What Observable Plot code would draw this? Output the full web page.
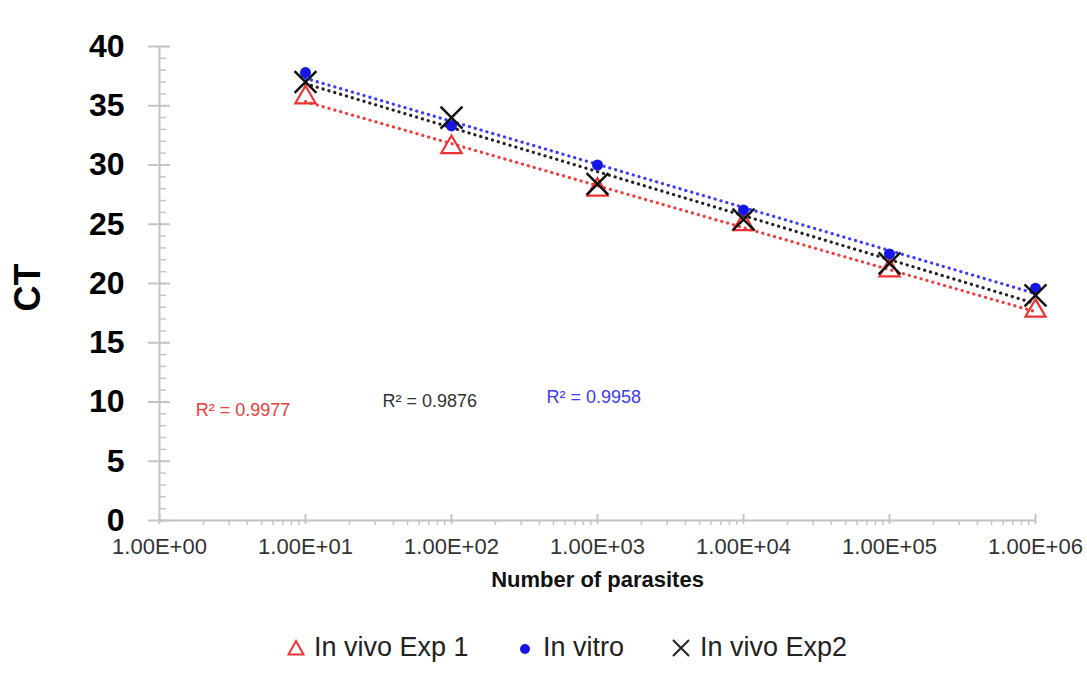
<!DOCTYPE html>
<html>
<head>
<meta charset="utf-8">
<script src="https://cdn.jsdelivr.net/npm/d3@7"></script>
<script src="https://cdn.jsdelivr.net/npm/@observablehq/plot@0.6"></script>
<style>
  body { margin: 0; background: #fff; font-family: "Liberation Sans", Arial, sans-serif; }
  #legend { height: 57px; position: relative; font-size: 27px; color: #222; }
  .item { position: absolute; top: 12px; display: flex; align-items: center; gap: 8px; }
</style>
</head>
<body>
<div id="chart"></div>
<div id="legend"></div>
<script>
// ---- data ----
const parasites = [1e1, 1e2, 1e3, 1e4, 1e5, 1e6];
const inVivoExp1 = [35.7, 31.5, 27.9, 25.0, 21.1, 17.7];
const inVitro    = [37.8, 33.3, 30.0, 26.2, 22.5, 19.6];
const inVivoExp2 = [37.0, 34.0, 28.4, 25.4, 21.7, 19.0];
const seriesNames = ["In vivo Exp 1", "In vitro", "In vivo Exp2"];
const seriesColors = ["#ee3333", "#1515e6", "#111111"];
const trendColors = ["#f03c3c", "#3c3cff", "#222222"];
const r2Text = ["R² = 0.9977", "R² = 0.9958", "R² = 0.9876"];
const r2Colors = ["#ee3a3a", "#3c3cf0", "#333333"];
const r2X = [1.77, 447, 33.7];
const r2Y = [9.27, 10.37, 10.1];
const yMajor = [0, 5, 10, 15, 20, 25, 30, 35, 40];
const yMinor = d3.range(0, 41, 1);
const xMajor = [1e0, 1e1, 1e2, 1e3, 1e4, 1e5, 1e6];
const xMinor = d3.range(0, 6).flatMap(k => d3.range(2, 10).map(m => m * Math.pow(10, k)));
const xTickLabel = d => "1.00E+" + String(Math.round(Math.log10(d))).padStart(2, "0");

// ---- build tables ----
const values = [inVivoExp1, inVitro, inVivoExp2];
const rows = values.map((vals, s) => parasites.map((x, i) => ({x, y: vals[i], s})));
function fit(vals) {
  const lx = parasites.map(Math.log10);
  const mx = d3.mean(lx), my = d3.mean(vals);
  const b = d3.sum(lx, (v, i) => (v - mx) * (vals[i] - my)) / d3.sum(lx, v => (v - mx) ** 2);
  const a = my - b * mx;
  const ends = d3.extent(parasites);
  return ends.map(x => ({x, y: a + b * Math.log10(x)}));
}
const trends = values.map(fit);
const r2 = r2Text.map((t, i) => ({text: t, x: r2X[i], y: r2Y[i], c: r2Colors[i]}));

const axisGray = "#c4c4c4";
const plot = Plot.plot({
  width: 1087,
  height: 620,
  marginLeft: 159,
  marginRight: 52,
  marginTop: 46,
  marginBottom: 100,
  style: {fontFamily: "Liberation Sans, Arial, sans-serif", background: "#fff", overflow: "visible"},
  x: {type: "log", domain: [1, 1e6], label: null},
  y: {domain: [0, 40], label: null},
  marks: [
    // axes lines
    Plot.ruleX([1], {stroke: axisGray, strokeWidth: 2}),
    Plot.ruleY([0], {stroke: axisGray, strokeWidth: 2}),
    // y ticks
    Plot.axisY(yMinor, {anchor: "left", tickSize: 7, dx: 7, tickFormat: () => "", stroke: axisGray, strokeWidth: 1.5, label: null}),
    Plot.axisY(yMajor, {anchor: "left", tickSize: 22, dx: 11, tickFormat: () => "", stroke: axisGray, strokeWidth: 2, label: null}),
    Plot.axisY(yMajor, {anchor: "left", tickSize: 0, tickPadding: 35, fontSize: 32, fontWeight: "bold", fill: "#000", label: null}),
    // x ticks
    Plot.axisX(xMinor, {anchor: "bottom", tickSize: 5, tickFormat: () => "", stroke: axisGray, strokeWidth: 1.5, label: null}),
    Plot.axisX(xMajor, {anchor: "bottom", tickSize: 10, dy: -6, tickFormat: () => "", stroke: axisGray, strokeWidth: 2, label: null}),
    Plot.axisX(xMajor, {anchor: "bottom", tickSize: 0, tickPadding: 18, tickFormat: xTickLabel, fontSize: 22, fill: "#333", label: null}),
    // axis titles
    Plot.text(["CT"], {text: d => d, frameAnchor: "left", rotate: -90, dx: -131, dy: 28, fontSize: 36, fontWeight: "bold", fill: "#000"}),
    Plot.text(["Number of parasites"], {text: d => d, frameAnchor: "bottom", dy: 66, fontSize: 22, fontWeight: "bold", fill: "#111", letterSpacing: "1px"}),
    // trend lines
    ...trends.map((t, i) => Plot.line(t, {x: "x", y: "y", stroke: trendColors[i], strokeWidth: 3.2, strokeDasharray: "0.1,6", strokeLinecap: "round"})),
    // points
    Plot.dot(rows[0], {x: "x", y: "y", symbol: "triangle", r: 7.5, stroke: seriesColors[0], strokeWidth: 2.2, fill: "none"}),
    Plot.dot(rows[1], {x: "x", y: "y", symbol: "circle", r: 5.5, fill: seriesColors[1], stroke: "none"}),
    Plot.dot(rows[2], {x: "x", y: "y", symbol: "times", r: 10, stroke: seriesColors[2], strokeWidth: 2.5}),
    // R² annotations
    Plot.text(r2, {x: "x", y: "y", text: "text", fill: "c", textAnchor: "start", fontSize: 18})
  ]
});
document.getElementById("chart").appendChild(plot);

// ---- legend ----
const legend = document.getElementById("legend");
const lefts = [286, 515, 670];
const icons = [
  `<svg width="20" height="20"><path d="M10,3 L17.5,16.5 L2.5,16.5 Z" fill="none" stroke="${seriesColors[0]}" stroke-width="2"/></svg>`,
  `<svg width="20" height="20"><circle cx="10" cy="11" r="5" fill="${seriesColors[1]}"/></svg>`,
  `<svg width="22" height="22"><path d="M3,3 L19,19 M19,3 L3,19" stroke="#222" stroke-width="2"/></svg>`
];
seriesNames.forEach((name, i) => {
  const d = document.createElement("div");
  d.className = "item";
  d.style.left = lefts[i] + "px";
  d.innerHTML = icons[i] + `<span>${name}</span>`;
  legend.appendChild(d);
});
</script>
</body>
</html>
